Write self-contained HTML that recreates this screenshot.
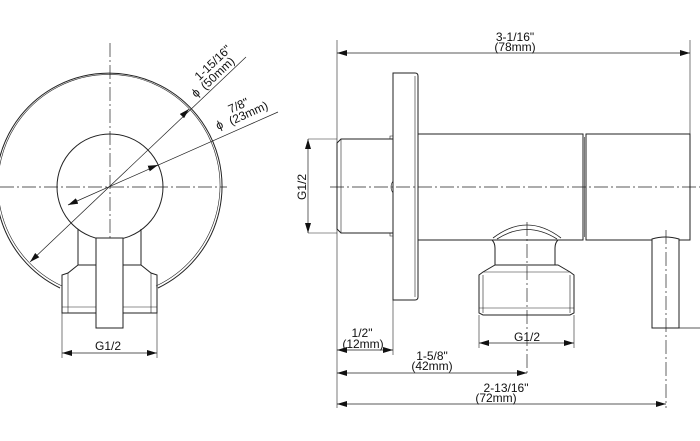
<!DOCTYPE html>
<html><head><meta charset="utf-8"><style>
html,body{margin:0;padding:0;background:#fff;width:700px;height:441px;overflow:hidden}
text{font-family:"Liberation Sans",sans-serif;font-size:12px;fill:#111}
</style></head><body>
<svg width="700" height="441" viewBox="0 0 700 441" xmlns="http://www.w3.org/2000/svg">
<defs>
<marker id="a" viewBox="0 0 10 6" refX="10" refY="3" markerWidth="10" markerHeight="6" orient="auto-start-reverse" markerUnits="userSpaceOnUse"><path d="M0,0 L10,3 L0,6z" fill="#111"/></marker>
</defs>
<g fill="none" stroke="#222" stroke-width="1">
<path d="M60,288 A113,113 0 1 1 158,288"/>
<path d="M62,286 A111,111 0 1 1 156,286" stroke-width="0.6"/>
<circle cx="110" cy="187" r="53"/>
<line x1="0" y1="187" x2="227" y2="187" stroke-dasharray="14,3,2,3" stroke-width="0.7"/>
<line x1="110" y1="43" x2="110" y2="238" stroke-dasharray="14,3,2,3" stroke-width="0.7"/>
<path d="M78,229 L78,265 M141,229 L141,265"/>
<path d="M78,265 L68,273 L62,275 L62,313 L68,313 L151,313 L157,313 L157,275 L151,273 L141,265 Z"/>
<path d="M68,273 L68,313 M151,273 L151,313 M62,307 L157,307" stroke-width="0.6"/>
<rect x="96" y="238" width="27" height="90" fill="#fff"/>
<line x1="62" y1="313" x2="62" y2="358" stroke-width="0.6"/>
<line x1="157" y1="313" x2="157" y2="358" stroke-width="0.6"/>
<line x1="62" y1="353" x2="157" y2="353" marker-start="url(#a)" marker-end="url(#a)" stroke-width="0.7"/>
<line x1="30" y1="262" x2="246" y2="57" marker-start="url(#a)" stroke-width="0.7"/>
<line x1="187" y1="111" x2="189" y2="109" marker-end="url(#a)" stroke-width="0.7"/>
<line x1="68" y1="205" x2="278" y2="112" marker-start="url(#a)" stroke-width="0.7"/>
<line x1="150" y1="168" x2="158" y2="165" marker-end="url(#a)" stroke-width="0.7"/>
<line x1="337" y1="40" x2="337" y2="408" stroke-width="0.6"/>
<line x1="690" y1="40" x2="690" y2="240" stroke-width="0.6"/>
<line x1="337" y1="53" x2="690" y2="53" marker-start="url(#a)" marker-end="url(#a)" stroke-width="0.7"/>
<path d="M393,73 L415,73 Q418,73 418,76 L418,297 Q418,300 415,300 L393,300 Z"/>
<line x1="415" y1="76" x2="415" y2="297" stroke-width="0.6"/>
<path d="M393,139 L341,139 L337,143 L337,229 L341,233 L393,233"/>
<line x1="341" y1="139" x2="341" y2="233" stroke-width="0.6"/>
<path d="M390,139 L390,136 L393,136 M390,233 L390,236 L393,236 M393,181 Q389,187 393,193" stroke-width="0.6"/>
<rect x="418" y="134" width="165" height="106"/>
<rect x="586" y="134" width="104" height="106"/>
<line x1="584.5" y1="137" x2="584.5" y2="237" stroke-width="0.6"/>
<line x1="330" y1="187" x2="700" y2="187" stroke-dasharray="14,3,2,3" stroke-width="0.7"/>
<line x1="308" y1="139" x2="337" y2="139" stroke-width="0.6"/>
<line x1="308" y1="233" x2="337" y2="233" stroke-width="0.6"/>
<line x1="308" y1="139" x2="308" y2="233" marker-start="url(#a)" marker-end="url(#a)" stroke-width="0.7"/>
<path d="M492,240 Q495,243 495,248 L495,265 M558,240 Q555,243 555,248 L555,265" fill="#fff"/>
<path d="M493,238 Q527,212 561,238 M497,239 Q527,220 557,239" stroke-width="0.8"/>
<path d="M495,265 L558,265 L570,272 L574,275 L574,313 L570,315 L483,315 L479,313 L479,275 L483,272 Z"/>
<path d="M483,272 L570,272 M483,275 L483,313 M570,275 L570,313 M479,308 L574,308" stroke-width="0.6"/>
<line x1="527" y1="222" x2="527" y2="375" stroke-dasharray="14,3,2,3" stroke-width="0.7"/>
<path d="M652,328 L652,239 Q665,235 679,239 L679,328 Z" fill="#fff"/>
<line x1="652" y1="328" x2="700" y2="328" stroke-width="0.8"/>
<line x1="666" y1="230" x2="666" y2="408" stroke-dasharray="14,3,2,3" stroke-width="0.7"/>
<line x1="393" y1="300" x2="393" y2="355" stroke-width="0.6"/>
<line x1="479" y1="315" x2="479" y2="348" stroke-width="0.6"/>
<line x1="574" y1="315" x2="574" y2="348" stroke-width="0.6"/>
<line x1="337" y1="350" x2="393" y2="350" marker-start="url(#a)" marker-end="url(#a)" stroke-width="0.7"/>
<line x1="479" y1="343" x2="574" y2="343" marker-start="url(#a)" marker-end="url(#a)" stroke-width="0.7"/>
<line x1="337" y1="373" x2="527" y2="373" marker-start="url(#a)" marker-end="url(#a)" stroke-width="0.7"/>
<line x1="337" y1="404" x2="666" y2="404" marker-start="url(#a)" marker-end="url(#a)" stroke-width="0.7"/>
</g>
<text x="108" y="350" text-anchor="middle">G1/2</text>
<g transform="translate(196,98) rotate(-43.5)"><text x="0" y="0">ϕ</text><text x="14" y="-10">1-15/16"</text><text x="12" y="1">(50mm)</text></g>
<g transform="translate(218,130) rotate(-24)"><text x="0" y="0">ϕ</text><text x="18" y="-10">7/8"</text><text x="14" y="1">(23mm)</text></g>
<text x="515" y="41" text-anchor="middle">3-1/16"</text>
<text x="515" y="51" text-anchor="middle">(78mm)</text>
<text transform="translate(306,187) rotate(-90)" text-anchor="middle">G1/2</text>
<text x="362" y="337" text-anchor="middle">1/2"</text>
<text x="363" y="348" text-anchor="middle">(12mm)</text>
<text x="527" y="341" text-anchor="middle">G1/2</text>
<text x="432" y="360" text-anchor="middle">1-5/8"</text>
<text x="432" y="370" text-anchor="middle">(42mm)</text>
<text x="506" y="392" text-anchor="middle">2-13/16"</text>
<text x="496" y="402" text-anchor="middle">(72mm)</text>
</svg>
</body></html>
